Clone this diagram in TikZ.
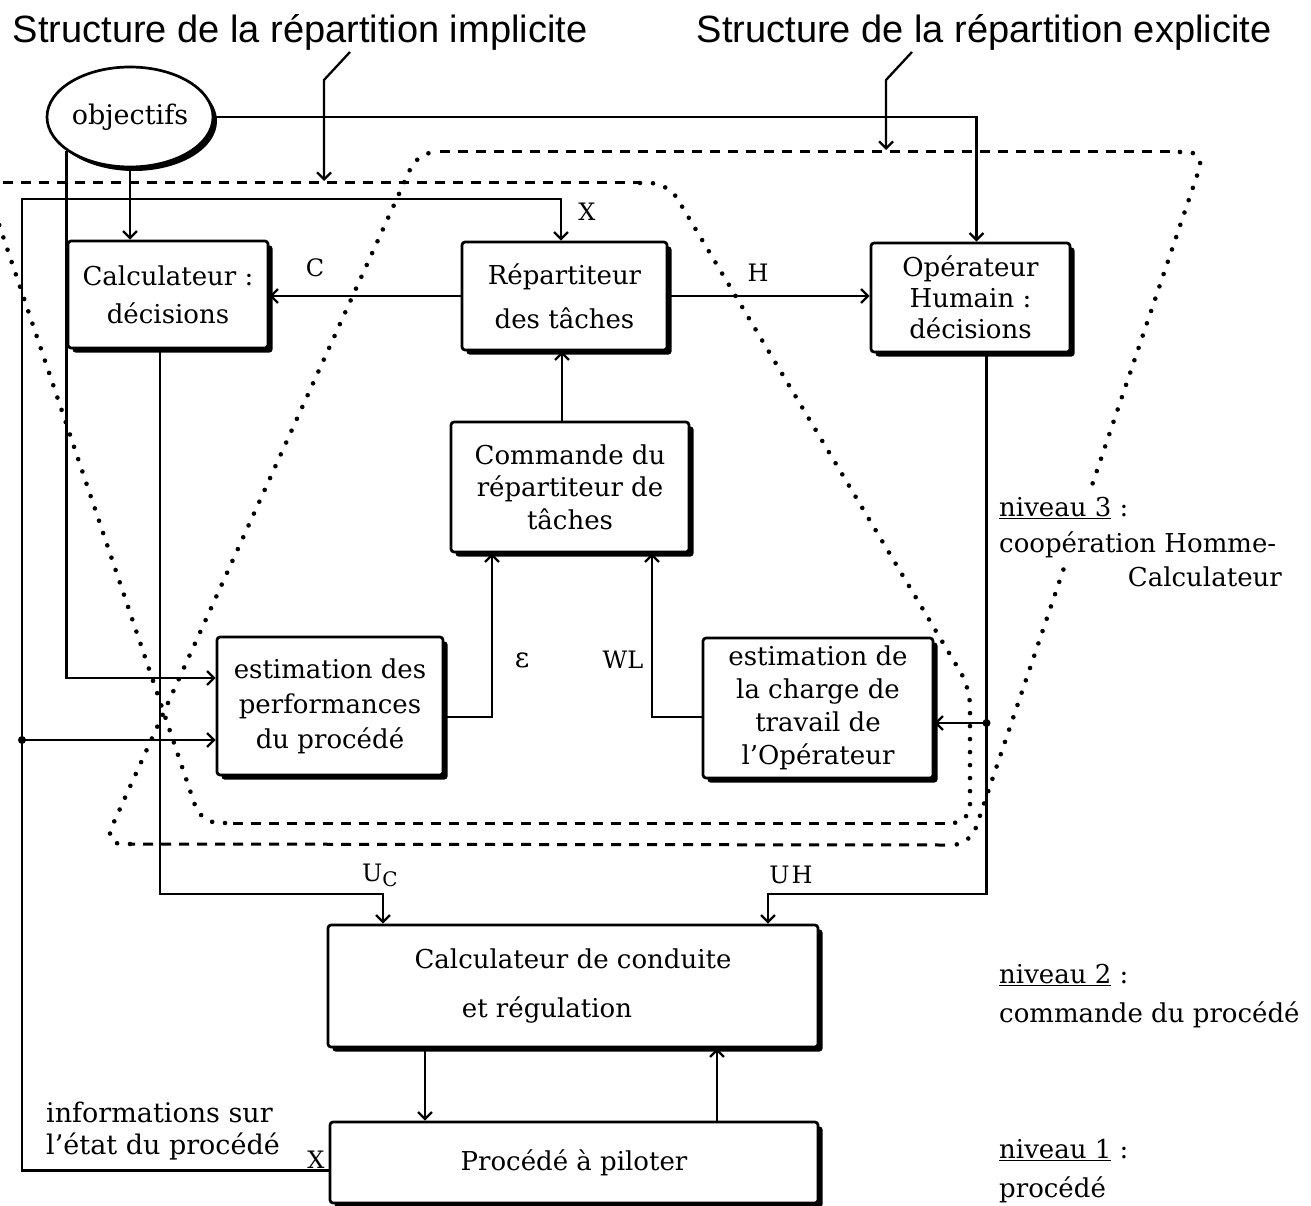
\documentclass[tikz,border=0pt]{standalone}
\usepackage{fontspec}
\setmainfont{DejaVu Serif}
\newfontfamily\headfont{Liberation Sans}
\usetikzlibrary{arrows.meta,shapes.geometric,shadows,calc}

\begin{document}
\begin{tikzpicture}[x=1pt,y=-1pt,
  box/.style={draw,line width=2.7pt,rounded corners=3pt,fill=white,inner sep=0pt,align=center,
    general shadow={fill=black,shadow xshift=4.5pt,shadow yshift=-4.5pt}},
  conn/.style={line width=2.3pt},
  arr/.style={conn,-{Straight Barb[length=7pt,width=14pt,line width=2.3pt]}},
  dashline/.style={line width=3pt,dash pattern=on 10pt off 8pt},
  dotline/.style={line width=4.6pt,line cap=round,dash pattern=on 0pt off 13pt,rounded corners=18pt},
  lbl/.style={inner sep=1pt,font=\fontsize{24}{24}\selectfont},
  side/.style={anchor=west,inner xsep=4pt,inner ysep=5pt,fill=white,font=\fontsize{26}{30}\selectfont},
  head/.style={inner sep=0pt,font=\headfont\fontsize{38}{38}\selectfont}]

\useasboundingbox (0,0) rectangle (1311,1206);
\fill[white] (0,0) rectangle (1311,1206);
\clip (0,0) rectangle (1311,1206);

% implicit allocation frame
\draw[dashline] (-15,183) -- (640,183);
\draw[dotline] (640,183) -- (668,183) -- (970,688) -- (970,823) -- (945,823);
\draw[dashline] (945,823) -- (225,823);
\draw[dotline] (225,823) -- (201,823) -- (-15,183);

% explicit allocation frame
\draw[dashline] (440,152) -- (1180,152);
\draw[dotline] (1180,152) -- (1205,152) -- (970,845) -- (945,845);
\draw[dashline] (945,845) -- (130,844);
\draw[dotline] (130,844) -- (104,844) -- (418,152) -- (440,152);

% headings and their leaders
\node[head] (t1) at (300,32) {Structure de la répartition implicite};
\node[head] (t2) at (984,32) {Structure de la répartition explicite};
\coordinate (i0) at (350,52);
\coordinate (i1) at (324,80);
\coordinate (i2) at (324,181);
\draw[arr] (i0) -- (i1) -- (i2);
\coordinate (e0) at (912,52);
\coordinate (e1) at (886,80);
\coordinate (e2) at (886,150);
\draw[arr] (e0) -- (e1) -- (e2);

% blocks
\node[draw,ellipse,line width=2.7pt,fill=white,minimum width=166pt,minimum height=100pt,inner sep=0pt,
  general shadow={fill=black,shadow xshift=4pt,shadow yshift=-4pt},
  font=\fontsize{27}{27}\selectfont] (obj) at (130,117) {objectifs};
\node[box,minimum width=200pt,minimum height=107pt,font=\fontsize{26}{38}\selectfont]
  (calc) at (168,294.5) {Calculateur :\\décisions};
\node[box,minimum width=205pt,minimum height=108pt,font=\fontsize{26}{44}\selectfont]
  (rep) at (564.5,296) {Répartiteur\\des tâches};
\node[box,minimum width=199pt,minimum height=109pt,font=\fontsize{26}{31}\selectfont]
  (oper) at (970.5,297.5) {Opérateur\\Humain :\\décisions};
\node[box,minimum width=238pt,minimum height=130pt,font=\fontsize{26}{32.5}\selectfont]
  (cmd) at (570,487) {Commande du\\répartiteur de\\tâches};
\node[box,minimum width=226pt,minimum height=138pt,font=\fontsize{26}{35}\selectfont]
  (perf) at (330,706) {estimation des\\performances\\du procédé};
\node[box,minimum width=230pt,minimum height=140pt,font=\fontsize{26}{33}\selectfont]
  (charge) at (818,708) {estimation de\\la charge de\\travail de\\l'Opérateur};
\node[box,minimum width=490pt,minimum height=122pt,font=\fontsize{26}{50}\selectfont]
  (cond) at (573,986) {Calculateur de conduite\\et régulation\hspace*{52pt}};
\node[box,minimum width=488pt,minimum height=81pt,font=\fontsize{26}{30}\selectfont]
  (proc) at (574,1162.5) {Procédé à piloter};

% level captions
\node[side] (n3) at (995,508) {\underline{niveau 3} :};
\node[side] (n3a) at (995,545) {coopération Homme-};
\node[side,anchor=east] (n3b) at (1286,577) {Calculateur};
\node[side] (n2) at (995,975) {\underline{niveau 2} :};
\node[side] (n2a) at (995,1015) {commande du procédé};
\node[side] (n1) at (995,1150) {\underline{niveau 1} :};
\node[side] (n1a) at (995,1190) {procédé};
\node[anchor=west,inner sep=0pt,align=left,font=\fontsize{27}{32}\selectfont]
  (info) at (46,1131) {informations sur\\l'état du procédé};

% signal labels
\node[lbl] (lc) at (315,268) {C};
\node[lbl] (lh) at (758,273) {H};
\node[lbl] (lx) at (587,212) {X};
\node[inner sep=1pt,font=\fontsize{28}{28}\selectfont] (leps) at (522,660) {ε};
\node[lbl] (lwl) at (623,660) {WL};
\node[lbl] (luc) at (380,875) {U\raisebox{-5pt}{\fontsize{20}{20}\selectfont C}};
\node[lbl] (luh) at (791,875) {U\kern2pt H};
\node[lbl] (lx2) at (316,1160) {X};

% connectors
\draw[arr] (obj.east) -| ([xshift=6pt]oper.north);
\draw[arr] (obj.south) -- (obj.south |- calc.north);
\draw[arr] (obj.208) |- ([yshift=28pt]perf.west);

\coordinate (xl) at (22,199);
\draw[arr] ([yshift=-8pt]proc.west) -| (xl) -| ([xshift=-3.5pt]rep.north);
\coordinate (pl) at ([yshift=-34pt]perf.west);
\draw[arr] (pl -| xl) -- (pl);
\fill (pl -| xl) circle (4pt);

\draw[arr] (rep.west) -- (rep.west -| calc.east);
\draw[arr] (rep.east) -- (rep.east -| oper.west);
\draw[arr] ([xshift=-8pt]cmd.north) -- ([xshift=-8pt]cmd.north |- rep.south);
\draw[arr] ([yshift=-11pt]perf.east) -| ([xshift=-78pt]cmd.south);
\draw[arr] ([yshift=-9pt]charge.west) -| ([xshift=82pt]cmd.south);

\coordinate (ho) at ([xshift=16pt]oper.south);
\draw[arr] (ho) |- ([xshift=195pt,yshift=30pt]cond.north) -- ([xshift=195pt]cond.north);
\coordinate (ci) at ([yshift=-15pt]charge.east);
\draw[arr] (ci -| ho) -- (ci);
\fill (ci -| ho) circle (4pt);
\draw[arr] ([xshift=-8pt]calc.south) |- ([xshift=-190pt,yshift=30pt]cond.north) -- ([xshift=-190pt]cond.north);

\draw[arr] ([xshift=-148pt]cond.south) -- ([xshift=-148pt]cond.south |- proc.north);
\draw[arr] ([xshift=143pt]proc.north) -- ([xshift=143pt]proc.north |- cond.south);
\end{tikzpicture}
\end{document}
